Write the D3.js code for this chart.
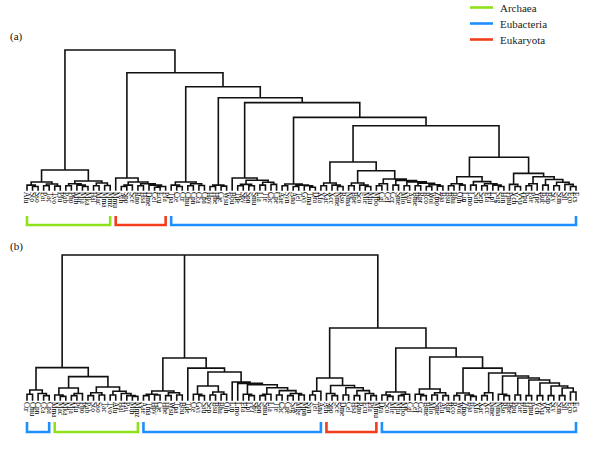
<!DOCTYPE html>
<html><head><meta charset="utf-8">
<script src="https://cdn.jsdelivr.net/npm/d3@7"></script>
<style>body{margin:0;background:#fff} svg{display:block}</style>
</head><body>
<svg id="c" width="600" height="450"></svg>
<script>
// ---------- data ----------
const groups = ["Archaea", "Eubacteria", "Eukaryota"];
const groupColors = ["#8fe21a", "#1e8fff", "#f23c1c"];

// Panel (a): leaf labels in display order
const labelsA = [
  "Afu","Sto","Sso","Pai","Tac","Tvo","Pfu","Pab","Pho","Mth","Mja","Mka","Hal","Mac","Mma","Mmz",
  "Mmu","Ath","Spo","Sce","Rno","Hsa","Dme","Cel","Ecu","Pfa",
  "Tpa","Cte","Ctr","Cmu","Cpn","Cca","Cpa",
  "Hpy","Hhe","Cje","Wsu",
  "Bbu","Tde","Spy","Spn","Smu","Lla","Tte","Cac","Cpe",
  "Aae","Syn","Ana","Tel","Gvi","Tma","Dra",
  "Xfa","Xac","Xcc","Nme","Rso","Nma","Bpe","Sco","Mle","Mtu","Mbo","Cgl","Cef","Ccr","Sme","Mlo","Atu","Bme","Rpr","Rco","Wol","Zmo","Bja",
  "Bsu","Bha","Oih","Lin","Lmo","Sau","Sep","Efa","Lpl","Sag","Hin","Pmu","Vch","Vvu","Ppu","Pae","Ype","Buc","Bap","Sty","Stm","Sfl","Eco","Ecs"
];
// Panel (a) subtrees: [height, child, child, ...]; numbers are leaf indices
const archaeaA = [14.3, [5.7, [3.5, 0, [2.5, 1, 2]], [4.3, [3, 3, 4], [2.8, 5, 6]]],
                        [6.4, [4.5, [3, 7, 8], [3.5, 9, [2.5, 10, 11]]], [5, [3, 12, 13], [3.2, 14, 15]]]];
const eukA = [8.6, 16, [5.7, [3.5, [2.5, 17, 18], 19], [4.5, [3, 20, 21], [3.5, 22, [2.5, [2, 23, 24], 25]]]]];
const l3LeftA = [5.7, [3.5, 26, [2.5, 27, 28]], [4.5, [3, 29, 30], [3.2, 31, 32]]];
const l4LeftA = [3.5, [2.5, 33, 34], [2.8, 35, 36]];
const l5LeftA = [8.6, 37, [7, [4, [3, 38, 39], [3, 40, 41]], [5.5, [3.5, 42, 43], [4, 44, 45]]]];
const l6LeftA = [4.3, [3, 46, 47], [3.5, [2.5, 48, 49], [3, 50, [2, 51, 52]]]];
const l7LeftA = [20, [5, [3, 53, 54], [3.5, 55, [2.5, 56, 57]]],
  [13.8, [5, [3, 58, 59], [3.5, 60, [2.5, 61, 62]]],
    [7.9, [4.5, [3, 63, 64], 65], [6.8, [3.5, 66, 67], [5.8, [3, 68, 69], [4.8, [3, 70, 71], [3.8, [2.5, 72, 73], [2.8, 74, 75]]]]]]]];
const l7RightA = [23.4, [9.5, [4.5, [3, 76, 77], [3.5, 78, 79]], [6, [3.5, 80, 81], [4.5, [3, 82, 83], [3.5, 84, [2.5, 85, 86]]]]],
  [11.9, [4, 87, [2.5, 88, 89]], [9.5, [4.5, [3, 90, 91], 92], [7.5, [3.5, 93, 94], [5.5, [3, 95, 96], [4, 97, [2.5, 98, 99]]]]]]];
const spineHeightsA = [100, 83.8, 73.8, 65.9, 62.4, 51.9, 45.9];
const treeA = [spineHeightsA[0], archaeaA,
  [spineHeightsA[1], eukA,
    [spineHeightsA[2], l3LeftA,
      [spineHeightsA[3], l4LeftA,
        [spineHeightsA[4], l5LeftA,
          [spineHeightsA[5], l6LeftA,
            [spineHeightsA[6], l7LeftA, l7RightA]]]]]]];
const bracketsA = [["Archaea", 0, 15], ["Eukaryota", 16, 25], ["Eubacteria", 26, 99]];

// Panel (b)
const labelsB = [
  "Ctr","Cmu","Cpn","Cca","Cpa",
  "Mma","Mac","Mka","Mja","Pfu","Pho","Pab","Sto","Sso","Tac","Tvo","Afu","Hal","Pai","Mth","Mmz",
  "Aae","Tma","Hpy","Cje","Hhe","Wsu","Tpa","Bbu","Tde","Cte","Gvi","Sau","Sep","Bsu","Bha","Oih","Lin","Lmo","Efa","Lpl","Spy","Spn","Smu","Lla","Tte","Cac","Cpe","Sag","Mge","Mpn",
  "Syn","Tel","Ana",
  "Ath","Spo","Sce","Dme","Cel","Hsa","Rno","Ecu","Pfa","Mmu",
  "Dra","Sco","Mle","Mtu","Mbo","Cgl","Cef","Ccr","Bme","Mlo","Sme","Atu","Rpr","Rco","Wol","Zmo","Bja","Xfa","Xac","Xcc","Nme","Nma","Rso","Bpe","Ppu","Pae","Hin","Pmu","Vch","Vvu","Ype","Sty","Stm","Sfl","Eco","Ecs"
];
const chlamB = [6.9, [4, 0, 1], [4.5, 2, [3, 3, 4]]];
const archaeaB = [16.1, [8.3, [3.5, 5, [2.5, 6, 7]], [4.5, [3, 8, 9], 10]],
  [9, [5, [3, 11, 12], [3.5, 13, 14]], [6, [3.5, 15, 16], [4.5, 17, [3, 18, [2.5, 19, 20]]]]]];
const midB = [29, [6.2, [4, [3, 21, 22], [3.5, 23, 24]], [5, [3, 25, 26], [3.5, 27, 28]]],
  [22, 29, [19.3, [9.7, [4, 30, [3, 31, 32]], [5.5, [3.5, 33, 34], [4, 35, 36]]],
    [12.4, 37, [11.5, 38, [10.5, [4, 39, [3, 40, 41]], [8.5, [4, [3, 42, 43], 44], [6.5, [3.5, 45, 46], [4.5, [3, 47, 48], [3.5, 49, 50]]]]]]]]]];
const cyanoEukB = [15.2, [6, [3.5, 51, 52], 53],
  [10, [4.5, 54, [3, 55, 56]], [8.5, [3.5, 57, 58], [6.5, [3, 59, 60], [4.5, 61, [3, 62, 63]]]]]];
const proteoB = [35.9, [5.5, [3.5, 64, [2.5, 65, 66]], [4, [3, 67, 68], 69]],
  [29.7, [7.6, [4, 70, [3, 71, 72]], [5, [3.5, 73, 74], [3, 75, 76]]],
    [22, [4.8, [3, 77, 78], [3.5, 79, [2.5, 80, 81]]],
      [18.6, [5, [3, 82, 83], 84], [16.6, [4, 85, [3, 86, 87]], [15.2, [3.5, 88, 89],
        [13.8, [3, 90, 91], [11.7, [3, 92, 93], [9.7, [3, 94, 95], [8.3, [3, 96, 97], [5.5, 98, 99]]]]]]]]]]];
const treeB = [100, [22.3, chlamB, archaeaB], midB, [49.7, cyanoEukB, proteoB]];
const bracketsB = [["Eubacteria", 0, 4], ["Archaea", 5, 20], ["Eubacteria", 21, 53], ["Eukaryota", 54, 63], ["Eubacteria", 64, 99]];

const panelLabels = ["(a)", "(b)"];

// ---------- drawing ----------
const svg = d3.select("#c");
const color = d3.scaleOrdinal(groups, groupColors);

function toNode(t) {
  return typeof t === "number" ? { leaf: t, h: 0 } : { h: t[0], children: t.slice(1).map(toNode) };
}

function drawTree(tree, labels, brackets, opt) {
  const root = d3.hierarchy(toNode(tree));
  d3.cluster().nodeSize([1, 1]).separation(() => 1)(root);
  const leaves = root.leaves();
  const x = d3.scaleLinear().domain([leaves[0].x, leaves[leaves.length - 1].x]).range([27, 576]);
  const y = d3.scaleLinear().domain([0, 100]).range([opt.tip, opt.top]);
  const g = svg.append("g");
  const p = d3.path();
  root.each(n => {
    if (!n.children) return;
    const yn = y(n.data.h);
    const xs = n.children.map(c => x(c.x));
    p.moveTo(d3.min(xs), yn); p.lineTo(d3.max(xs), yn);
    n.children.forEach(c => { p.moveTo(x(c.x), yn); p.lineTo(x(c.x), y(c.data.h)); });
  });
  g.append("path").attr("d", p.toString()).attr("fill", "none")
    .attr("stroke", "#111").attr("stroke-width", 1.6).attr("stroke-linecap", "square");

  g.selectAll("text.leaf").data(leaves).join("text")
    .attr("class", "leaf")
    .attr("transform", d => `translate(${x(d.x)},${opt.tip + 2}) rotate(90)`)
    .attr("dy", "0.35em")
    .attr("font-family", "Liberation Serif, serif")
    .attr("font-size", 7.4)
    .attr("fill", "#000")
    .text(d => labels[d.data.leaf]);

  const xl = i => x(leaves.find(l => l.data.leaf === i).x);
  brackets.forEach(([name, a, b]) => {
    const x0 = xl(a), x1 = xl(b);
    g.append("path")
      .attr("d", `M${x0},${opt.bTop}V${opt.bBot}H${x1}V${opt.bTop}`)
      .attr("fill", "none").attr("stroke", color(name)).attr("stroke-width", 2.6);
  });

  svg.append("text").attr("x", 10).attr("y", opt.labelY)
    .attr("font-family", "Liberation Serif, serif").attr("font-size", 11).attr("fill", "#111")
    .text(opt.label);
}

drawTree(treeA, labelsA, bracketsA, { tip: 190, top: 50, bTop: 216, bBot: 225, labelY: 40, label: panelLabels[0] });
drawTree(treeB, labelsB, bracketsB, { tip: 400, top: 255, bTop: 422, bBot: 432, labelY: 250, label: panelLabels[1] });

// legend
const leg = svg.append("g");
const legOrder = ["Archaea", "Eubacteria", "Eukaryota"];
const ly = d3.scalePoint().domain(legOrder).range([7.5, 39.5]);
legOrder.forEach(name => {
  leg.append("line").attr("x1", 470).attr("x2", 493).attr("y1", ly(name)).attr("y2", ly(name))
    .attr("stroke", color(name)).attr("stroke-width", 2.6);
  leg.append("text").attr("x", 500).attr("y", ly(name) + 4)
    .attr("font-family", "Liberation Serif, serif").attr("font-size", 11).attr("fill", "#222")
    .text(name);
});
</script>
</body></html>
